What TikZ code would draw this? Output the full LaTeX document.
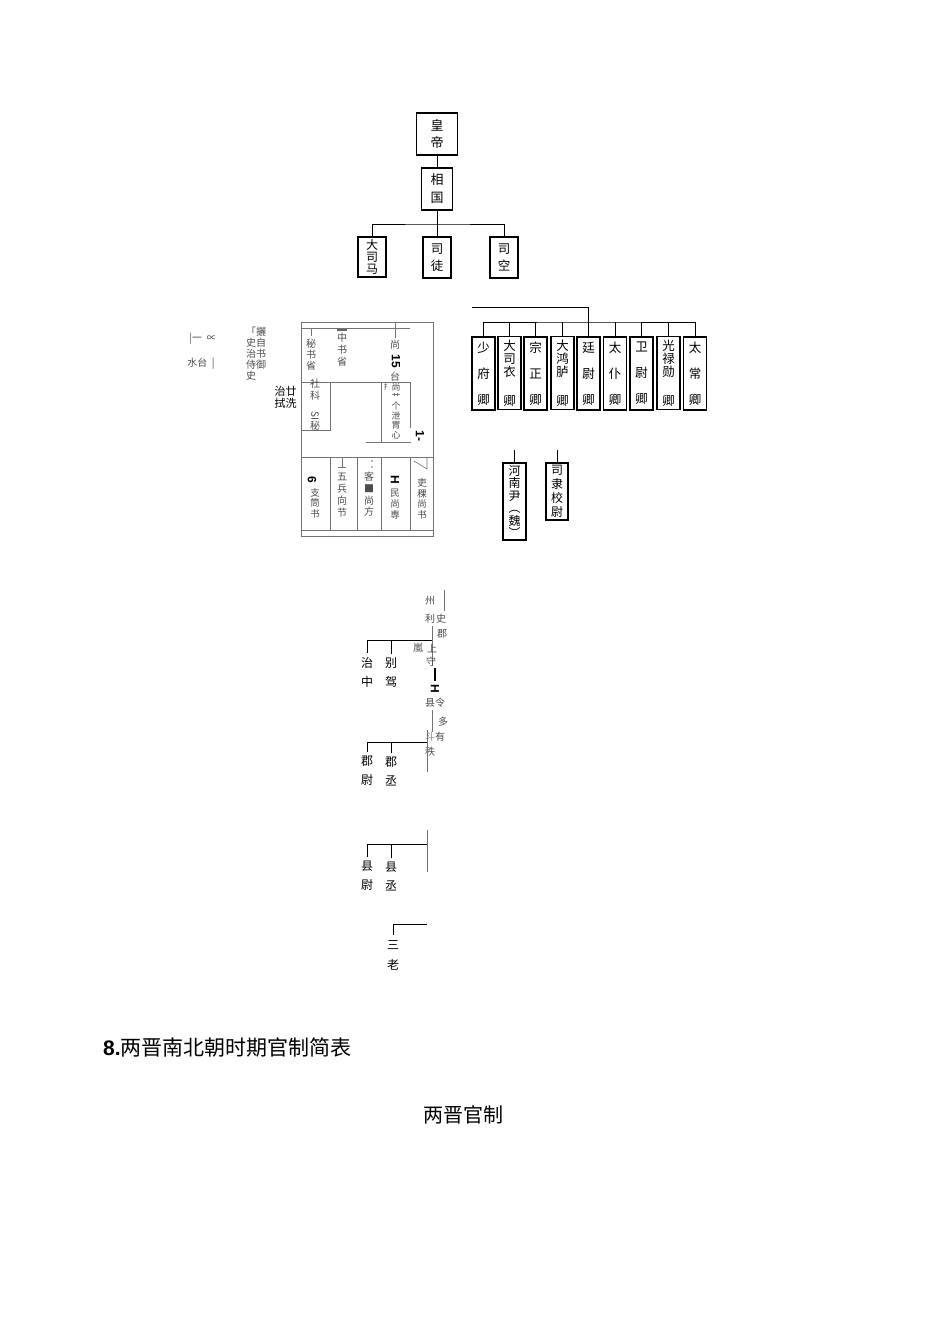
\documentclass[tikz,border=0pt]{standalone}
\usepackage{fontspec}
\usepackage{graphicx}
\setmainfont{Liberation Sans}
\newfontfamily\cjk{Noto Sans CJK SC}
\usetikzlibrary{positioning}

\newcommand{\cjksize}[2]{\cjk\fontsize{#1}{#2}\selectfont}

\begin{document}
\begin{tikzpicture}[x=1pt, y=-1pt,
    every node/.style={inner sep=0pt, align=center, font=\cjksize{11}{13}},
    rankbox/.style={draw, line width=1.3pt},
    qingbox/.style={draw, line width=1.2pt, minimum width=23, minimum height=73, font=\cjksize{12.5}{13}},
    link/.style={line width=1pt},
    faint/.style={line width=.6pt, black!55},
    scan/.style={text=black!70, font=\cjksize{10}{11}},
    digit/.style={font=\bfseries\fontsize{12}{12}\selectfont, rotate=-90}]
  \useasboundingbox (0,0) rectangle (950,1318);

  % emperor and three dukes
  \node[rankbox, minimum width=41, minimum height=42, font=\cjksize{13}{17}] (huangdi) at (437,134) {皇\\帝};
  \node[rankbox, minimum width=31, minimum height=42, font=\cjksize{13}{18}] (xiangguo) at (437,189) {相\\国};
  \node[rankbox, minimum width=28, minimum height=40, font=\cjksize{12}{12}] (dasima) at (372,257) {大\\司\\马};
  \node[rankbox, minimum width=28, minimum height=41, font=\cjksize{12.5}{17}] (situ) at (437,257.5) {司\\徒};
  \node[rankbox, minimum width=28, minimum height=41, font=\cjksize{12.5}{17}] (sikong) at (504,257.5) {司\\空};
  \coordinate (sangong) at (437,224);
  \draw[link] (huangdi) -- (xiangguo);
  \draw[link] (xiangguo) -- (situ);
  \draw[link] (dasima.north) |- (sangong) -| (sikong.north);

  % nine ministers
  \node[qingbox] (shaofu) at (483.5,373.5) {少\\[13pt]府\\[13pt]卿};
  \node[qingbox] (dasinong) at (509.5,373) {大\\司\\衣\\[16pt]卿};
  \node[qingbox] (zongzheng) at (535.5,373.5) {宗\\[13pt]正\\[13pt]卿};
  \node[qingbox] (dahonglu) at (562.5,373) {大\\鸿\\胪\\[16pt]卿};
  \node[qingbox] (tingwei) at (588.5,373.5) {廷\\[13pt]尉\\[13pt]卿};
  \node[qingbox] (taipu) at (615,373.5) {太\\[13pt]仆\\[13pt]卿};
  \node[qingbox] (weiwei) at (641.5,373.5) {卫\\[13pt]尉\\[13pt]卿};
  \node[qingbox] (guanglu) at (668.5,373) {光\\禄\\勋\\[16pt]卿};
  \node[qingbox] (taichang) at (695,373.5) {太\\[13pt]常\\[13pt]卿};
  \coordinate (jiuqing) at (588.5,322);
  \coordinate (feed) at (472,307);
  \draw[link] (shaofu.north) |- (jiuqing) -| (taichang.north);
  \draw[link] (feed) -| (tingwei.north);
  \draw[link] (dasinong.north) -- (dasinong.north |- jiuqing);
  \draw[link] (zongzheng.north) -- (zongzheng.north |- jiuqing);
  \draw[link] (dahonglu.north) -- (dahonglu.north |- jiuqing);
  \draw[link] (taipu.north) -- (taipu.north |- jiuqing);
  \draw[link] (weiwei.north) -- (weiwei.north |- jiuqing);
  \draw[link] (guanglu.north) -- (guanglu.north |- jiuqing);

  % henan and sili
  \node[rankbox, line width=1.1pt, minimum width=23, minimum height=77, font=\cjksize{12}{12.5}] (henanyin) at (514.5,501.5) {河\\南\\尹\\︵\\魏\\︶};
  \node[rankbox, line width=1.1pt, minimum width=22, minimum height=57, font=\cjksize{12}{14}] (sili) at (557,491.5) {司\\隶\\校\\尉};
  \coordinate (henan-top) at (514.5,450);
  \coordinate (sili-top) at (557,450);
  \draw[link] (henan-top) -- (henanyin);
  \draw[link] (sili-top) -- (sili);

  % shangshu frame
  \draw[faint] (301,322) rectangle (433,536);
  \draw[faint] (301,328) -- (410,328);
  \draw[faint] (311,328) -- (311,336);
  \draw[faint] (395,322) -- (395,338);
  \draw[line width=2pt, black!60] (337,330) -- (347,330);
  \draw[faint] (301,382) -- (410,382);
  \draw[faint] (330,382) -- (330,430) -- (301,430);
  \draw[faint] (381,382) -- (381,442);
  \draw[faint] (366,442) -- (411,442);
  \draw[faint] (410,382) -- (410,428);
  \draw[faint] (301,457) -- (433,457);
  \draw[faint] (301,530) -- (433,530);
  \draw[faint] (330,457) -- (330,530);
  \draw[faint] (357,457) -- (357,530);
  \draw[faint] (381,457) -- (381,530);
  \draw[faint] (410,457) -- (410,530);
  \draw[faint] (342,457) -- (342,467);
  \draw[faint] (338,467) -- (346,467);
  \draw[faint] (414,461) -- (427,469) -- (427,458);
  \fill[black!60] (372,461) circle (0.8);
  \fill[black!60] (372,467) circle (0.8);

  \node[scan] (mishu) at (311,355) {秘\\书\\省};
  \node[scan, font=\cjksize{10}{12}] (zhongshu) at (342,350) {中\\书\\省};
  \node[scan] (shang-a) at (395,345) {尚};
  \node[digit] (n15) at (396,361) {15};
  \node[scan] (tai) at (395,377) {台};
  \node[scan, font=\cjksize{7}{8}] (shou) at (387,387) {扌};
  \node[scan, font=\cjksize{9}{9.5}] (shangxin) at (396,411) {尚\\艹\\个\\泄\\胃\\心};
  \node[digit] (n1) at (420,436) {1-};
  \node[scan, font=\cjksize{10}{12}] (sheke) at (315,405) {社\\科\\\rotatebox{-90}{SI}\\秘};
  \node[digit] (n6) at (312,480) {6};
  \node[scan, font=\cjksize{9.5}{10.5}] (zhitong) at (315,503) {支\\筒\\书};
  \node[scan, font=\cjksize{10}{12}] (wubing) at (342,495) {五\\兵\\向\\节};
  \node[scan, font=\cjksize{10}{11.7}] (kecao) at (369,494.5) {客\\■\\尚\\方};
  \node[digit] (hcol) at (395,480) {H};
  \node[scan, font=\cjksize{9.5}{11}] (minshang) at (395,504) {民\\尚\\専};
  \node[scan, font=\cjksize{9.5}{10.7}] (libu) at (422,499) {吏\\稞\\尚\\书};

  % yushitai
  \node[scan] (tai-a) at (203,339) {|一\ \ ∝};
  \node[scan] (tai-b) at (201,364) {水台\ \ |};
  \node[scan, align=left] (yushi) at (256,354) {「攦\\史自\\治书\\侍御\\史};
  \node[font=\cjksize{11}{12}] (zhinian) at (285.5,397) {治廿\\拭洗};

  % zhou, jun, xian
  \node[scan] (zhou) at (430,601) {州};
  \node[scan] (li) at (430,619) {利};
  \node[scan] (cishi) at (441,619) {史};
  \node[scan] (jun) at (442,634) {郡};
  \draw[faint] (444,590) -- (444,611);
  \draw[faint] (432,626) -- (432,666);
  \node[scan] (lan) at (418,648) {嵐};
  \node[scan] (shang-b) at (432,649) {上};
  \node[scan] (taishou) at (431,662) {守};
  \coordinate (zhou-bus) at (432,640);
  \node[font=\cjksize{12}{19}] (zhizhong) at (367,672) {治\\中};
  \node[font=\cjksize{12}{19}] (biejia) at (391,672) {别\\驾};
  \draw[link, shorten <=4pt] (zhizhong.north) |- (zhou-bus);
  \draw[link, shorten <=3pt] (biejia.north) -- (biejia.north |- zhou-bus);
  \draw[line width=2.2pt] (435,668) -- (435,681);
  \node[digit] (hbar) at (435,689) {H};

  \node[scan] (xian-a) at (430,703) {县};
  \node[scan] (ling) at (440,703) {令};
  \node[scan] (duo) at (443,722) {多};
  \node[scan, text=black!45] (dou) at (430,737) {斗};
  \node[scan] (you) at (440,737) {有};
  \node[scan] (zhi) at (430,752) {秩};
  \draw[faint] (432,710) -- (432,732);
  \coordinate (jun-bus) at (427,742);
  \coordinate (jun-end) at (427,772);
  \node[font=\cjksize{12}{19}] (junwei) at (367,771) {郡\\尉};
  \node[font=\cjksize{12}{19}] (juncheng) at (391,771) {郡\\丞};
  \draw[link, shorten <=4pt] (junwei.north) |- (jun-bus);
  \draw[link, shorten <=3pt] (juncheng.north) -- (juncheng.north |- jun-bus);
  \draw[faint] (jun-bus |- 0,730) -- (jun-end);

  \coordinate (xian-top) at (427,830);
  \coordinate (xian-bus) at (427,844);
  \coordinate (xian-end) at (427,872);
  \node[font=\cjksize{12}{19}] (xianwei) at (367,876) {县\\尉};
  \node[font=\cjksize{12}{19}] (xiancheng) at (391,876) {县\\丞};
  \draw[faint] (xian-top) -- (xian-end);
  \draw[link, shorten <=4pt] (xianwei.north) |- (xian-bus);
  \draw[link, shorten <=3pt] (xiancheng.north) -- (xiancheng.north |- xian-bus);

  \coordinate (sanlao-top) at (427,924);
  \node[font=\cjksize{12}{20}] (sanlao) at (393,955) {三\\老};
  \draw[link, shorten <=5pt] (sanlao.north) |- (sanlao-top);

  % captions
  \node[anchor=west, font=\fontsize{21}{21}\selectfont] (title) at (103,1047) {\textbf{8.}{\cjk 两晋南北朝时期官制简表}};
  \node[font=\cjksize{20}{20}] (liangjin) at (463,1115) {两晋官制};
\end{tikzpicture}
\end{document}
